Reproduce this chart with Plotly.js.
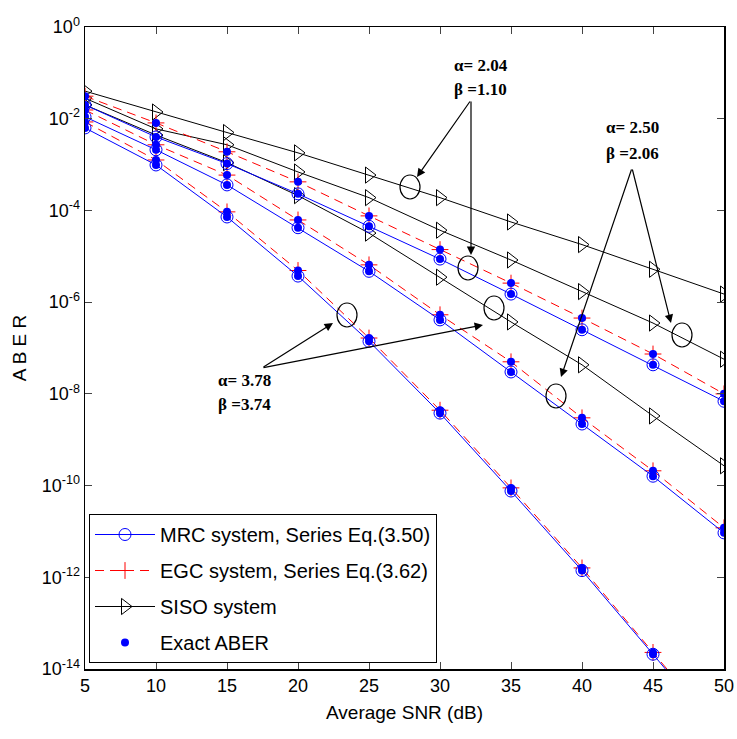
<!DOCTYPE html>
<html>
<head>
<meta charset="utf-8">
<script src="https://cdn.plot.ly/plotly-3.0.1.min.js"></script>
<style>html,body{margin:0;padding:0;background:#fff;}#chart{width:737px;height:739px;}</style>
</head>
<body>
<div id="chart"></div>
<script>
// Average SNR (dB)
const snr = [5, 10, 15, 20, 25, 30, 35, 40, 45, 50];

// alpha = 2.04, beta = 1.10
const sisoA = [4.0e-2, 1.4e-2, 5.0e-3, 1.8e-3, 5.9e-4, 1.9e-4, 5.6e-5, 1.8e-5, 5.2e-6, 1.5e-6];
const mrcA  = [2.0e-2, 4.0e-3, 1.05e-3, 2.3e-4, 4.5e-5, 8.7e-6, 1.5e-6, 2.5e-7, 4.3e-8, 6.9e-9];
const egcA  = [3.1e-2, 8.1e-3, 1.9e-3, 4.2e-4, 7.6e-5, 1.4e-5, 2.6e-6, 4.5e-7, 7.4e-8, 1.0e-8];

// alpha = 2.50, beta = 2.06
const sisoB = [2.8e-2, 6.0e-3, 2.7e-3, 6.9e-4, 1.9e-4, 3.7e-5, 8.3e-6, 1.7e-6, 3.5e-7, 5.7e-8];
const mrcB  = [1.1e-2, 2.1e-3, 3.6e-4, 4.2e-5, 4.7e-6, 4.1e-7, 3.0e-8, 2.2e-9, 1.6e-10, 9.3e-12];
const egcB  = [1.55e-2, 2.7e-3, 5.9e-4, 6.2e-5, 6.5e-6, 5.3e-7, 5.0e-8, 3.0e-9, 2.1e-10, 1.2e-11];

// alpha = 3.78, beta = 3.74
const sisoC = [2.0e-2, 4.4e-3, 1.1e-3, 2.1e-4, 3.2e-5, 3.5e-6, 3.7e-7, 4.3e-8, 3.3e-9, 2.7e-10];
const mrcC  = [6.3e-3, 9.8e-4, 7.2e-5, 3.7e-6, 1.4e-7, 3.8e-9, 7.6e-11, 1.4e-12, 2.1e-14, 3.0e-16];
const egcC  = [8.5e-3, 1.26e-3, 9.3e-5, 4.9e-6, 1.65e-7, 4.4e-9, 8.9e-11, 1.6e-12, 2.3e-14, 3.3e-16];

// Exact ABER evaluated at the same SNR points as the series curves
const exactSeries = [mrcA, egcA, mrcB, egcB, mrcC, egcC];

const yTickVals = [1e-14, 1e-12, 1e-10, 1e-8, 1e-6, 1e-4, 1e-2, 1e0];
const yTickText = ['10<sup>-14</sup>', '10<sup>-12</sup>', '10<sup>-10</sup>', '10<sup>-8</sup>',
                   '10<sup>-6</sup>', '10<sup>-4</sup>', '10<sup>-2</sup>', '10<sup>0</sup>'];
const xTickVals = [5, 10, 15, 20, 25, 30, 35, 40, 45, 50];

const legendNames = ['MRC system, Series Eq.(3.50)', 'EGC system, Series Eq.(3.62)', 'SISO system', 'Exact ABER'];

const sans = '"Liberation Sans", Arial, sans-serif';
const serif = '"Liberation Serif", "Times New Roman", serif';

function mrcTrace(y, show) {
  return {x: snr, y: y, type: 'scatter', mode: 'lines+markers', name: legendNames[0],
    legendgroup: 'mrc', showlegend: show, legendrank: 1,
    line: {color: '#0000ff', width: 1},
    marker: {symbol: 'circle-open', size: 12, color: '#0000ff', line: {width: 1, color: '#0000ff'}}};
}
function egcTrace(y, show) {
  return {x: snr, y: y, type: 'scatter', mode: 'lines+markers', name: legendNames[1],
    legendgroup: 'egc', showlegend: show, legendrank: 2,
    line: {color: '#ff0000', width: 1, dash: '9px,6px'},
    marker: {symbol: 'cross-thin-open', size: 12, color: '#ff0000', line: {width: 1, color: '#ff0000'}}};
}
function sisoTrace(y, show) {
  return {x: snr, y: y, type: 'scatter', mode: 'lines+markers', name: legendNames[2],
    legendgroup: 'siso', showlegend: show, legendrank: 3,
    line: {color: '#000000', width: 1},
    marker: {symbol: 'triangle-right-open', size: 14, color: '#000000', line: {width: 1, color: '#000000'}}};
}

const exactX = [];
const exactY = [];
exactSeries.forEach(s => { snr.forEach((v, i) => { exactX.push(v); exactY.push(s[i]); }); });

const data = [
  sisoTrace(sisoA, true), sisoTrace(sisoB, false), sisoTrace(sisoC, false),
  egcTrace(egcA, true), egcTrace(egcB, false), egcTrace(egcC, false),
  mrcTrace(mrcA, true), mrcTrace(mrcB, false), mrcTrace(mrcC, false),
  {x: exactX, y: exactY, type: 'scatter', mode: 'markers', name: legendNames[3],
   legendgroup: 'exact', showlegend: true, legendrank: 4,
   marker: {symbol: 'circle', size: 8, color: '#0000ff'}}
];

// helpers: pixel -> paper
const L = 85, R = 724, T = 27, B = 669;
const px = v => (v - L) / (R - L);
const py = v => (B - v) / (B - T);

function ellipse(cx, cy) {
  return {type: 'circle', xref: 'paper', yref: 'paper',
    x0: px(cx - 10), x1: px(cx + 10), y0: py(cy + 12), y1: py(cy - 12),
    line: {color: '#000', width: 1.2}};
}
function arrow(hx, hy, tx, ty) {
  return {xref: 'paper', yref: 'paper', x: px(hx), y: py(hy), ax: tx - hx, ay: ty - hy,
    text: '', showarrow: true, arrowhead: 2, arrowsize: 1.4, arrowwidth: 1.2, arrowcolor: '#000', standoff: 0};
}
function label(lx, cy, txt) {
  return {xref: 'paper', yref: 'paper', x: px(lx), y: py(cy), xanchor: 'left', yanchor: 'middle',
    text: '<b>' + txt + '</b>', showarrow: false, font: {family: serif, size: 17, color: '#000'}};
}

const layout = {
  width: 737, height: 739,
  margin: {l: L, r: 737 - R, t: T, b: 739 - B},
  paper_bgcolor: '#fff', plot_bgcolor: '#fff',
  showlegend: true,
  legend: {x: px(89), y: py(514), xanchor: 'left', yanchor: 'top', bgcolor: '#fff',
    bordercolor: '#000', borderwidth: 1, font: {family: sans, size: 20, color: '#000'},
    itemwidth: 60, traceorder: 'grouped', tracegroupgap: 7},
  xaxis: {type: 'linear', range: [5, 50], tickvals: xTickVals, ticks: 'inside', ticklen: 7,
    showline: true, linecolor: '#000', linewidth: 1.5, mirror: 'ticks', showgrid: false, zeroline: false,
    tickfont: {family: sans, size: 18, color: '#000'},
    title: {text: 'Average SNR (dB)', font: {family: sans, size: 19, color: '#000'}, standoff: 10}},
  yaxis: {type: 'log', range: [-14, 0], tickvals: yTickVals, ticktext: yTickText, ticks: 'inside', ticklen: 7,
    showline: true, linecolor: '#000', linewidth: 1.5, mirror: 'ticks', showgrid: false, zeroline: false,
    tickfont: {family: sans, size: 18, color: '#000'},
    title: {text: 'A B E R', font: {family: sans, size: 19, color: '#000'}, standoff: 10}},
  shapes: [
    ellipse(410, 187), ellipse(468, 268), ellipse(682, 335),
    ellipse(556, 396), ellipse(347, 315), ellipse(494, 308)
  ],
  annotations: [
    label(452, 65, 'α= 2.04'), label(452, 90, 'β =1.10'),
    label(604, 128, 'α= 2.50'), label(604, 154, 'β =2.06'),
    label(216, 380, 'α= 3.78'), label(216, 405, 'β =3.74'),
    arrow(417, 177, 471, 100), arrow(471, 255, 471, 100),
    arrow(671, 323, 632, 168), arrow(561, 377, 632, 168),
    arrow(333, 323, 262, 368), arrow(483, 325, 262, 368)
  ]
};

Plotly.newPlot('chart', data, layout, {displayModeBar: false, staticPlot: true});
</script>
</body>
</html>
